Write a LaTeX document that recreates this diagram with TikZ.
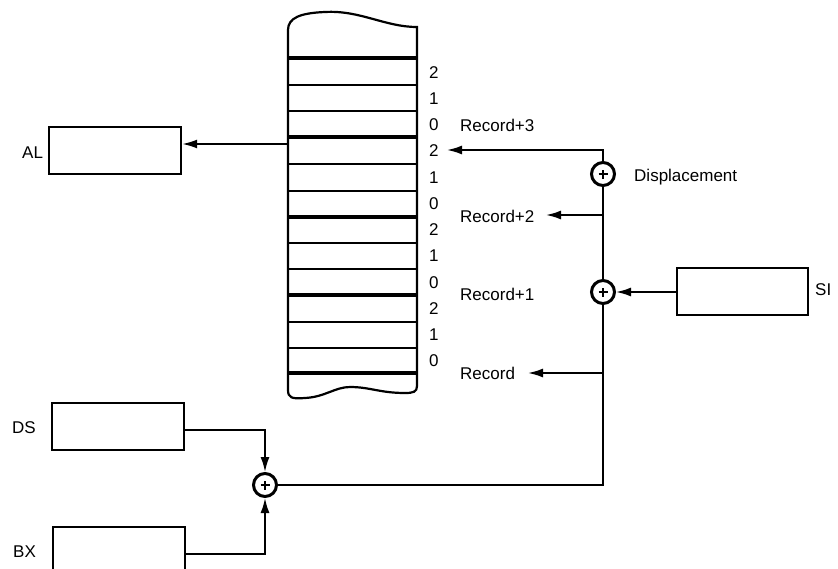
\documentclass[tikz,border=0pt]{standalone}
\usepackage{fontspec}
\setmainfont{Liberation Sans}
\usetikzlibrary{arrows.meta}
\begin{document}
\begin{tikzpicture}[x=1pt,y=-1pt,
  reg/.style={draw, line width=2.2pt, minimum width=132pt, minimum height=47pt, inner sep=0pt, anchor=north west},
  lbl/.style={font=\fontsize{17}{20}\selectfont, inner sep=0pt, anchor=base west},
  adder/.style={circle, draw, line width=3pt, minimum size=23pt, inner sep=0pt,
    path picture={\draw[line width=1.8pt] ([xshift=-4.5pt]path picture bounding box.center) -- ([xshift=4.5pt]path picture bounding box.center);
                  \draw[line width=1.8pt] ([yshift=-4.5pt]path picture bounding box.center) -- ([yshift=4.5pt]path picture bounding box.center);}},
  conn/.style={line width=1.8pt},
  arr/.style={conn, -{Latex[length=15pt,width=9pt]}},
  thin sep/.style={line width=1.8pt},
  thick sep/.style={line width=3.2pt},
]
\clip (0,0) rectangle (838,568);
\fill[white] (0,0) rectangle (838,568);

% memory column
\draw[line width=2.2pt] (417,386) -- (417,27)
  .. controls (385,27) and (360,10) .. (325,12)
  .. controls (300,13) and (288,18) .. (288,30)
  -- (288,390)
  .. controls (288,398) and (292,399) .. (305,398)
  .. controls (325,397) and (335,387) .. (350,387)
  .. controls (370,387) and (380,393) .. (405,393)
  .. controls (413,393) and (417,392) .. (417,386);
\foreach \y in {85,111,164,191,243,269,322,348}
  \draw[thin sep] (288,\y) -- (417,\y);
\foreach \y in {58,137,217,295,373}
  \draw[thick sep] (288,\y) -- (417,\y);
\foreach \i in {0,...,11}{
  \pgfmathtruncatemacro\d{2-mod(\i,3)}
  \pgfmathsetmacro\yy{78+26.25*\i}
  \node[lbl] (dig\i) at (429,\yy) {\d};
}

% registers
\node[reg] (al) at (48,126) {};
\node[reg] (ds) at (51,402) {};
\node[reg] (bx) at (52,526) {};
\node[reg, minimum width=131pt] (si) at (676,267) {};
\node[lbl] (allbl) at (22,158) {AL};
\node[lbl] (dslbl) at (12,433) {DS};
\node[lbl] (bxlbl) at (13,557) {BX};
\node[lbl] (silbl) at (815,295) {SI};

% adders
\node[adder] (dadd) at (603,174) {};
\node[adder] (sadd) at (603,292) {};
\node[adder] (badd) at (265,485) {};

% labels
\node[lbl] (r3) at (460,131) {Record+3};
\node[lbl] (r2) at (460,222) {Record+2};
\node[lbl] (r1) at (460,300) {Record+1};
\node[lbl] (r0) at (460,379) {Record};
\node[lbl] (disp) at (634,181) {Displacement};

% coordinates
\coordinate (memL) at (288,144);
\coordinate (r3tip) at (447,150);
\coordinate (j2) at (603,215);
\coordinate (r2tip) at (546,215);
\coordinate (j0) at (603,373);
\coordinate (r0tip) at (528,373);

% connectors
\draw[arr] (memL) -- (memL -| al.east);
\draw[arr] (dadd.north) |- (r3tip);
\draw[conn] (dadd.south) -- (sadd.north);
\draw[arr] (j2) -- (r2tip);
\draw[arr] (si.west |- sadd) -- (sadd.east);
\draw[arr] (j0) -- (r0tip);
\draw[conn] (sadd.south) |- (badd.east);
\draw[arr] ([yshift=-3pt]ds.east) -| (badd.north);
\draw[arr] ([yshift=-3pt]bx.east) -| (badd.south);
\end{tikzpicture}
\end{document}
